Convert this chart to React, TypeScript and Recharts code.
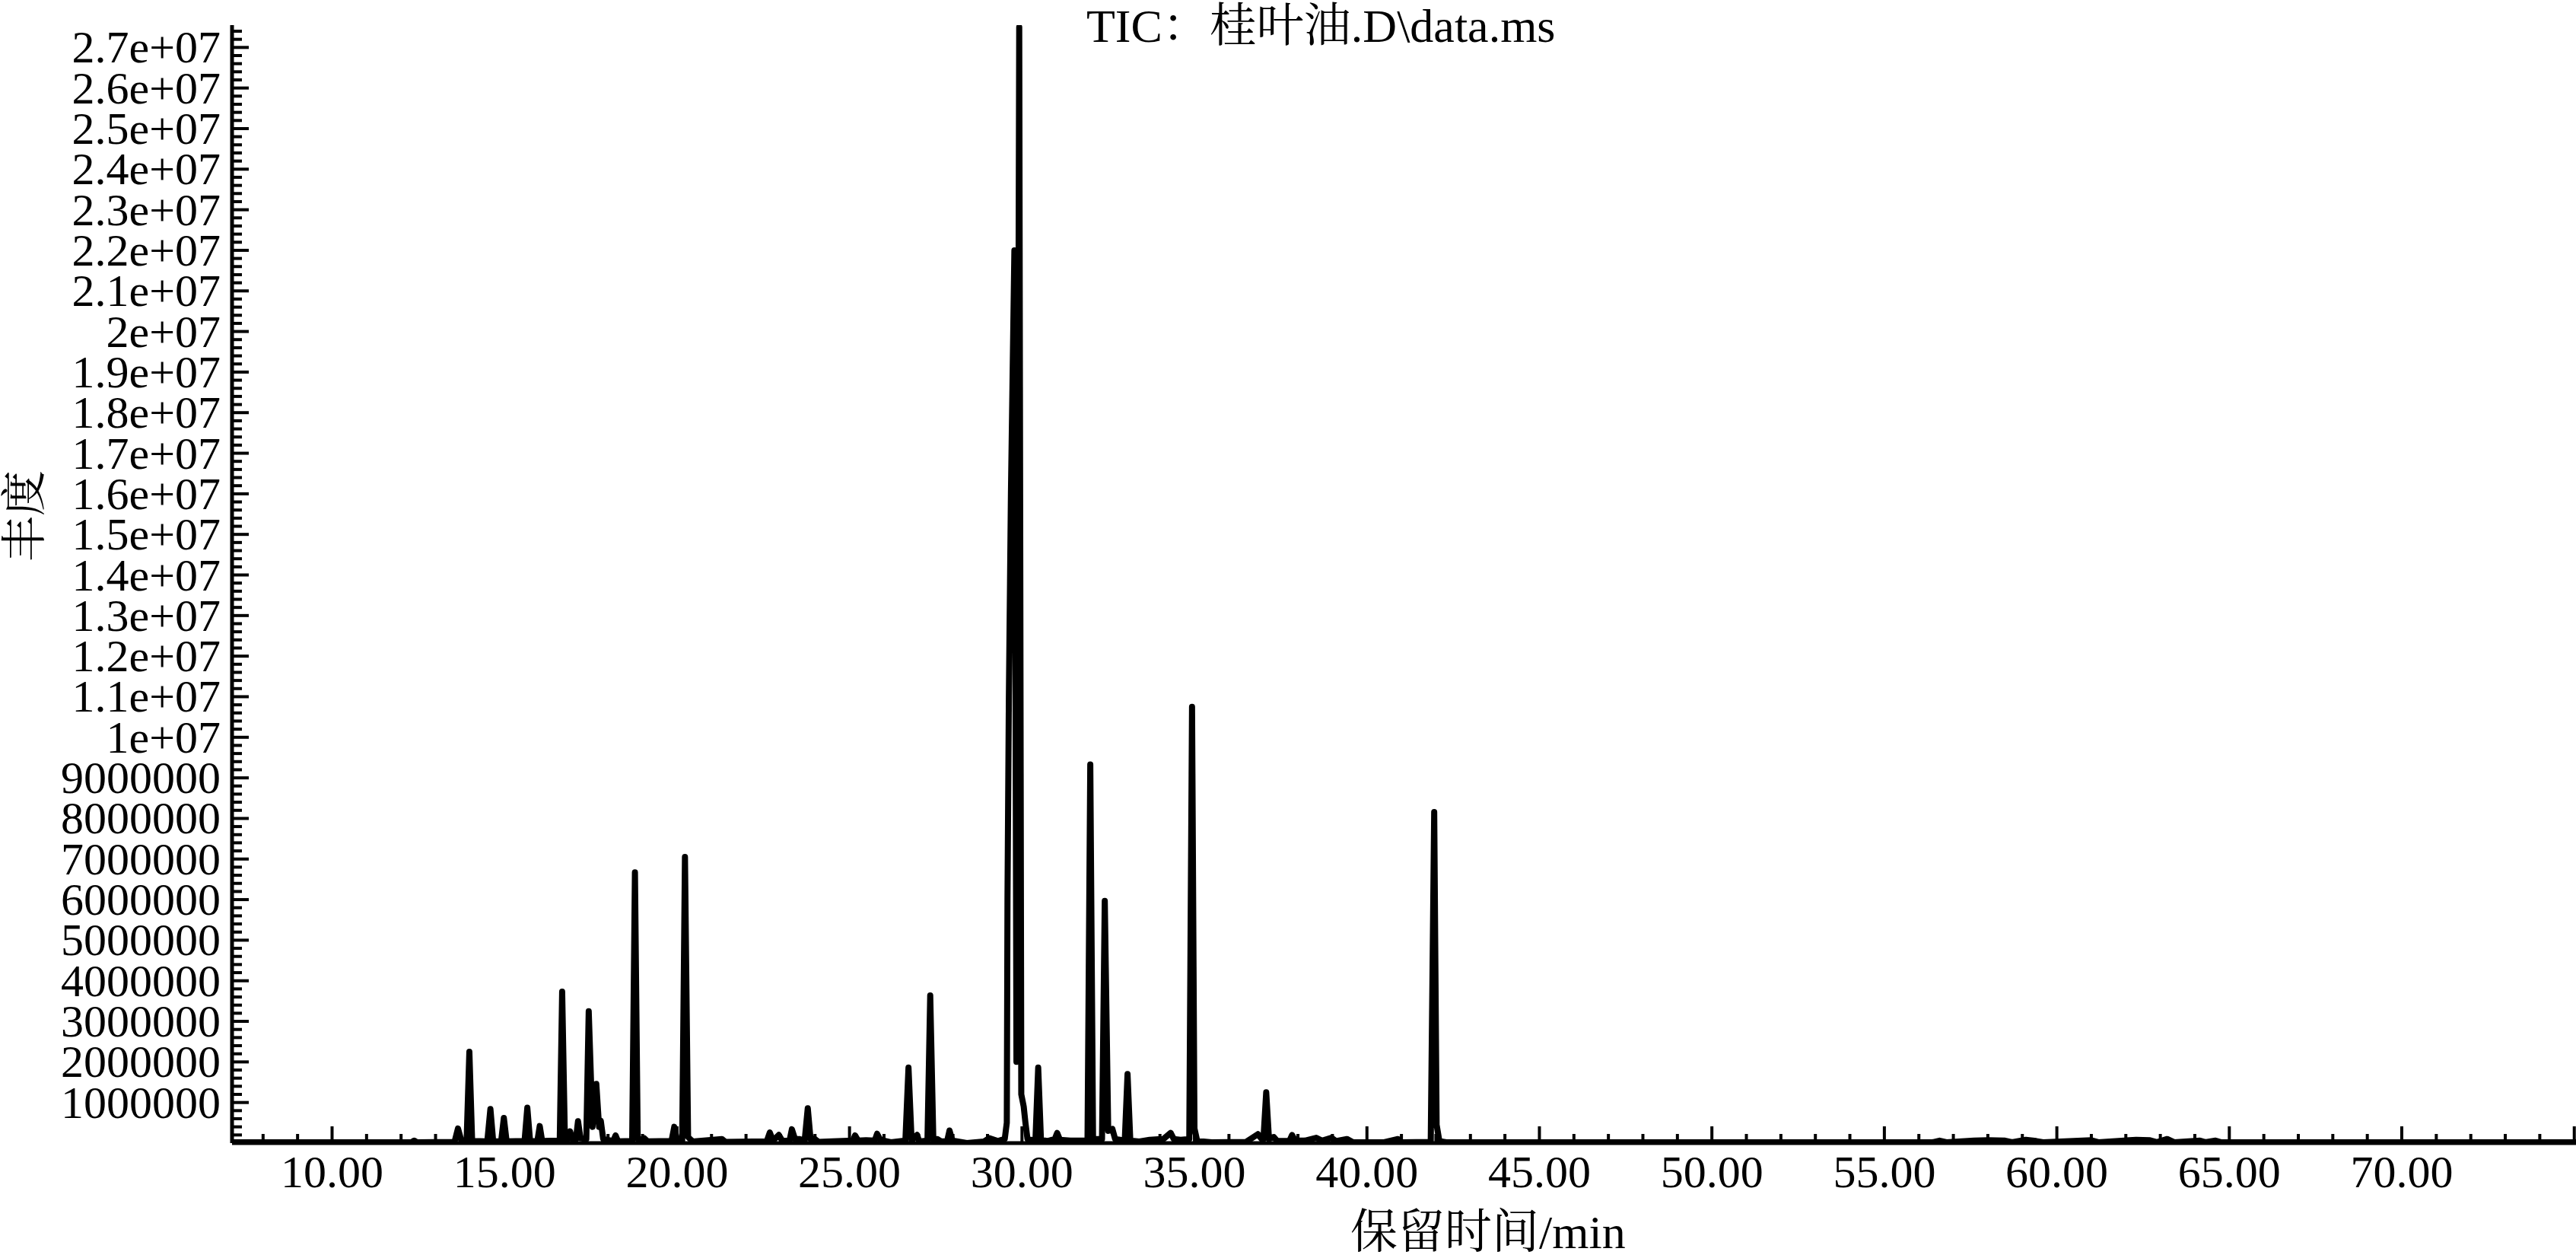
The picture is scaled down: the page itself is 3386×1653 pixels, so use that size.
import { LineChart, Line, XAxis, YAxis } from "recharts";

// TIC trace, [retention time (min), abundance]
const earlyTrace: [number, number][] = [
  [7.1, 20000], [12.3, 20000], [12.38, 60000], [12.46, 20000],
  [13.55, 30000], [13.65, 360000], [13.75, 50000],
  [13.9, 50000], [13.98, 2250000], [14.06, 50000],
  [14.5, 40000], [14.59, 840000], [14.67, 40000],
  [14.9, 40000], [14.98, 620000], [15.06, 40000],
  [15.58, 50000], [15.66, 870000], [15.74, 50000],
  [15.95, 40000], [16.02, 420000], [16.09, 50000],
  [16.6, 60000], [16.67, 3730000], [16.75, 80000],
  [16.84, 100000], [16.9, 290000], [16.96, 100000],
  [17.07, 100000], [17.13, 540000], [17.2, 120000],
  [17.37, 100000], [17.44, 3250000], [17.55, 400000],
  [17.66, 1460000], [17.74, 400000], [17.79, 550000], [17.86, 100000],
  [18.15, 50000], [18.22, 190000], [18.29, 40000],
  [18.7, 50000], [18.78, 6670000], [18.86, 100000],
  [18.95, 80000], [19.05, 120000], [19.15, 40000],
  [19.84, 50000], [19.92, 400000], [20.0, 60000],
  [20.15, 60000], [20.23, 7050000], [20.32, 150000], [20.45, 40000],
  [21.3, 100000], [21.4, 30000],
];

const middleTrace: [number, number][] = [
  [22.6, 40000], [22.69, 260000], [22.78, 60000],
  [22.95, 200000], [23.05, 60000],
  [23.26, 50000], [23.33, 340000], [23.42, 100000], [23.54, 100000],
  [23.7, 60000], [23.79, 860000], [23.87, 100000], [23.98, 110000], [24.1, 30000],
  [24.5, 40000], [25.1, 60000], [25.16, 190000], [25.25, 60000],
  [25.48, 70000], [25.73, 60000], [25.8, 230000], [25.88, 100000], [26.0, 60000], [26.2, 20000],
  [26.62, 60000], [26.71, 1860000], [26.8, 60000],
  [26.96, 200000], [27.02, 40000],
  [27.26, 60000], [27.34, 3640000], [27.43, 80000], [27.55, 100000], [27.65, 40000],
  [27.83, 50000], [27.9, 310000], [27.98, 60000],
  [28.4, 0], [28.9, 40000], [29.05, 120000], [29.3, 50000],
  [29.5, 100000], [29.56, 500000], [29.58, 6000000], [29.62, 11000000], [29.68, 16000000],
  [29.78, 22000000], [29.84, 2000000], [29.92, 27500000], [29.98, 1200000],
  [30.05, 900000], [30.1, 500000], [30.16, 100000],
  [30.39, 60000], [30.47, 1860000], [30.55, 80000],
  [30.75, 50000], [30.95, 100000], [31.02, 250000], [31.1, 80000], [31.4, 60000],
  [31.9, 60000], [31.98, 9330000], [32.06, 100000],
  [32.2, 100000], [32.32, 100000], [32.4, 5970000], [32.5, 300000],
  [32.62, 350000], [32.7, 100000],
  [32.98, 60000], [33.06, 1700000], [33.14, 60000],
  [33.4, 40000], [33.7, 80000], [34.1, 100000], [34.31, 250000], [34.4, 100000], [34.6, 80000],
  [34.85, 100000], [34.93, 10750000], [35.0, 360000], [35.08, 50000], [35.5, 20000],
];

const lateTrace: [number, number][] = [
  [36.5, 30000], [36.84, 220000], [36.95, 100000],
  [37.0, 100000], [37.08, 1250000], [37.16, 100000], [37.3, 150000], [37.4, 50000],
  [37.75, 50000], [37.83, 200000], [37.92, 60000],
  [38.2, 60000], [38.53, 130000], [38.7, 60000], [38.97, 130000], [39.1, 50000],
  [39.42, 100000], [39.6, 20000], [40.5, 20000], [40.9, 100000], [41.0, 20000],
  [41.85, 30000], [41.95, 8160000], [42.02, 450000], [42.1, 50000], [42.3, 20000],
  [47.0, 20000], [56.4, 20000], [56.6, 60000], [56.8, 20000],
  [57.6, 60000], [58.0, 70000], [58.5, 60000], [58.7, 20000],
  [59.1, 80000], [59.4, 50000], [59.6, 20000],
  [61.0, 70000], [61.2, 20000], [62.3, 80000], [62.7, 70000], [62.9, 20000],
  [63.2, 100000], [63.4, 20000], [64.15, 60000], [64.3, 20000], [64.6, 60000], [64.75, 20000],
  [75.05, 20000],
];

const xMajorTicks = [10, 15, 20, 25, 30, 35, 40, 45, 50, 55, 60, 65, 70, 75];
const xTickLabels = ["10.00", "15.00", "20.00", "25.00", "30.00", "35.00", "40.00", "45.00", "50.00", "55.00", "60.00", "65.00", "70.00", ""];

const yMajorTicks = [
  1000000, 2000000, 3000000, 4000000, 5000000, 6000000, 7000000, 8000000, 9000000,
  10000000, 11000000, 12000000, 13000000, 14000000, 15000000, 16000000, 17000000, 18000000,
  19000000, 20000000, 21000000, 22000000, 23000000, 24000000, 25000000, 26000000, 27000000,
];
const yTickLabels = [
  "1000000", "2000000", "3000000", "4000000", "5000000", "6000000", "7000000", "8000000", "9000000",
  "1e+07", "1.1e+07", "1.2e+07", "1.3e+07", "1.4e+07", "1.5e+07", "1.6e+07", "1.7e+07", "1.8e+07",
  "1.9e+07", "2e+07", "2.1e+07", "2.2e+07", "2.3e+07", "2.4e+07", "2.5e+07", "2.6e+07", "2.7e+07",
];

const chartTitle = "TIC：桂叶油.D\\data.ms";
const xTitle = "保留时间/min";
const yTitle = "丰度";

const W = 3386;
const H = 1653;
const serif = "'Liberation Serif', 'Times New Roman', 'Noto Serif CJK SC', 'Noto Sans CJK SC', serif";

const data = [...earlyTrace, ...middleTrace, ...lateTrace].map(([t, v]) => ({ t, v }));

// every minute on x, every 200000 on y
const xTicks = Array.from({ length: 68 }, (_, i) => 8 + i);
const yTicks = Array.from({ length: 137 }, (_, i) => (i + 1) * 200000);

function XTick(props: any) {
  const { x, y, payload } = props;
  const i = xMajorTicks.indexOf(payload.value);
  const len = i >= 0 ? 22 : 12;
  return (
    <g>
      <line x1={x} x2={x} y1={y} y2={y - len} stroke="#000" strokeWidth={4} />
      {i >= 0 && (
        <text x={x} y={y + 58} textAnchor="middle" fontSize={60} fontFamily={serif} fill="#000">
          {xTickLabels[i]}
        </text>
      )}
    </g>
  );
}

function YTick(props: any) {
  const { x, y, payload } = props;
  const i = yMajorTicks.indexOf(payload.value);
  const len = i >= 0 ? 22 : 13;
  return (
    <g>
      <line x1={x} x2={x + len} y1={y} y2={y} stroke="#000" strokeWidth={4} />
      {i >= 0 && (
        <text x={x - 15} y={y + 20} textAnchor="end" fontSize={60} fontFamily={serif} fill="#000">
          {yTickLabels[i]}
        </text>
      )}
    </g>
  );
}

export default function App() {
  return (
    <div style={{ position: "absolute", left: 0, top: 0, width: W, height: H, background: "#fff" }}>
      <LineChart width={W} height={H} data={data} margin={{ top: 33, right: 0, bottom: 0, left: 0 }}>
        <XAxis
          dataKey="t"
          type="number"
          domain={[7.1, 75.05]}
          allowDataOverflow
          ticks={xTicks}
          interval={0}
          height={151}
          tickSize={0}
          tickMargin={0}
          tickLine={false}
          tick={XTick}
          axisLine={{ stroke: "#000", strokeWidth: 5 }}
        />
        <YAxis
          type="number"
          domain={[0, 27550000]}
          allowDataOverflow
          ticks={yTicks}
          interval={0}
          width={305}
          tickSize={0}
          tickMargin={0}
          tickLine={false}
          tick={YTick}
          axisLine={{ stroke: "#000", strokeWidth: 5 }}
        />
        <Line
          type="linear"
          dataKey="v"
          stroke="#000"
          strokeWidth={8}
          strokeLinejoin="round"
          strokeLinecap="round"
          dot={false}
          isAnimationActive={false}
        />
      </LineChart>
      <svg width={W} height={H} style={{ position: "absolute", left: 0, top: 0, pointerEvents: "none" }}>
        <text x={1428} y={55} fontSize={62} fontFamily={serif} fill="#000">
          {chartTitle}
        </text>
        <text x={1775} y={1640} fontSize={62} fontFamily={serif} fill="#000">
          {xTitle}
        </text>
        <text
          transform="translate(33,678) rotate(-90)"
          textAnchor="middle"
          dominantBaseline="central"
          fontSize={60}
          fontFamily={serif}
          fill="#000"
        >
          {yTitle}
        </text>
      </svg>
    </div>
  );
}
